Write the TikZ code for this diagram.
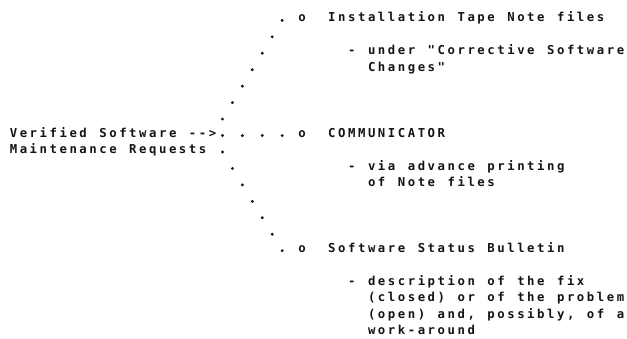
\documentclass[tikz,border=0pt]{standalone}
\usepackage{fontspec}
% letter-spaced mono face giving a 9.95pt character pitch;
% the tracking (2.55pt) is only put between letters of a word,
% so word spaces and split runs carry it themselves
\newfontfamily\printfont{DejaVu Sans Mono Bold}[LetterSpace=20.7]
\newcommand\printtext{\printfont\fontsize{12.3}{16.45}\selectfont\spaceskip=12.5pt\relax}
\newcommand\trk{\kern2.55pt\relax}
\definecolor{ink}{HTML}{141414}
\tikzset{
  prline/.style={anchor=base west, inner sep=0pt, outer sep=0pt, font=\printtext, text=ink},
  leader/.style={fill=ink},
}
\begin{document}
\begin{tikzpicture}[x=1pt,y=-1pt]
  \useasboundingbox[fill=white] (0,0) rectangle (627,339);

  % source of the requests
  \node[prline] (src)  at (9.8,137.15) {Verified Software -\trk-\trk>};
  \node[prline] (src2) at (9.8,153.6)  {Maintenance Requests};

  % distribution channels
  \node[prline] (oa) at (298.35,22)     {o};
  \node[prline] (ta) at (328.2,22)      {Installation Tape Note files};
  \node[prline] (na) at (348.1,54.9)    {- under "Corrective Software};
  \node[prline] (na2) at (368.0,71.35)  {Changes"};

  \node[prline] (ob) at (298.35,137.15) {o};
  \node[prline] (tb) at (328.2,137.15)  {COMMUNICATOR};
  \node[prline] (nb) at (348.1,170.05)  {- via advance printing};
  \node[prline] (nb2) at (368.0,186.5)  {of Note files};

  \node[prline] (oc) at (298.35,252.3)  {o};
  \node[prline] (tc) at (328.2,252.3)   {Software Status Bulletin};
  \node[prline] (nc) at (348.1,285.2)   {- description of the fix};
  \node[prline] (nc2) at (368.0,301.65) {(closed) or of the problem};
  \node[prline] (nc3) at (368.0,318.1)  {(open) and, possibly, of a};
  \node[prline] (nc4) at (368.0,334.55) {work-around};

  % dotted leaders fanning out from the arrow (column/line grid)
  \foreach \c/\n in {27/0,26/1,25/2,24/3,23/4,22/5,21/6,
                     21/7,23/7,25/7,27/7,
                     21/8,22/9,23/10,24/11,25/12,26/13,27/14}
    \fill[leader] ({13.5+9.95*\c},{20.4+16.45*\n}) circle (1.6);
\end{tikzpicture}
\end{document}
